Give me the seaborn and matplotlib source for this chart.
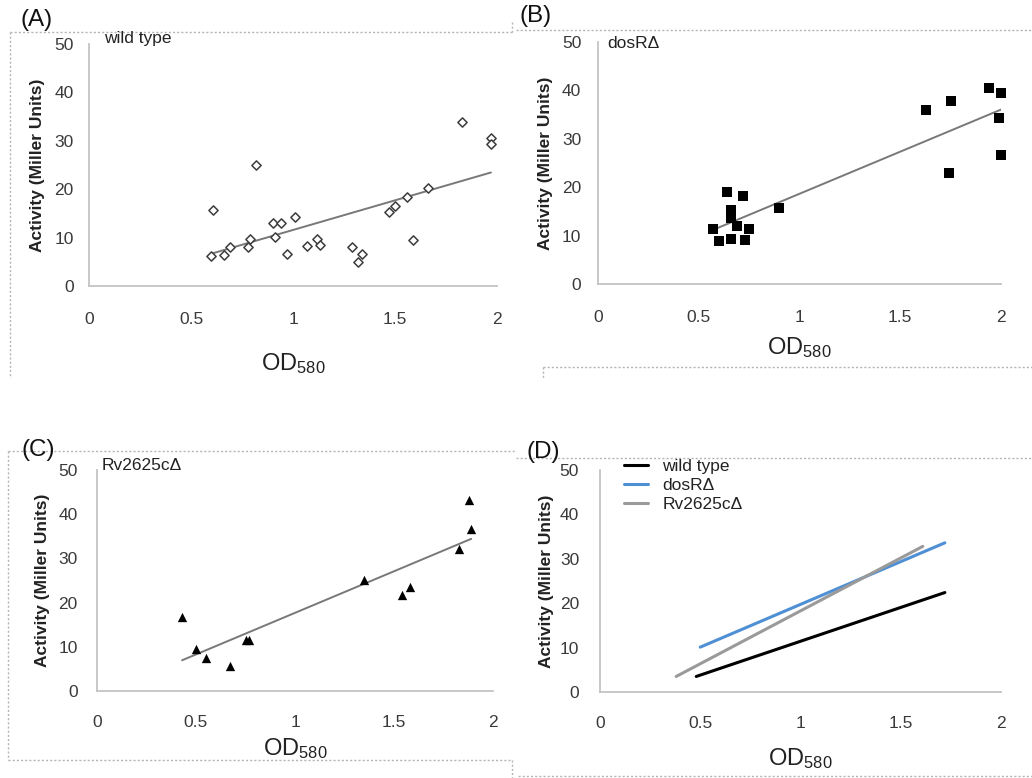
import numpy as np
import pandas as pd
import matplotlib
matplotlib.use("Agg")
import matplotlib.pyplot as plt
from matplotlib.lines import Line2D
import seaborn as sns

# ---------------- data ----------------
wt_od = [0.60, 0.61, 0.66, 0.69, 0.78, 0.79, 0.82, 0.90, 0.94, 0.91, 0.97, 1.01,
         1.07, 1.12, 1.13, 1.29, 1.32, 1.34, 1.47, 1.50, 1.56, 1.59, 1.66, 1.83,
         1.97, 1.97]
wt_act = [6.1, 15.8, 6.4, 8.1, 8.0, 9.7, 25.0, 13.1, 13.1, 10.2, 6.6, 14.3,
          8.3, 9.7, 8.5, 8.1, 5.0, 6.7, 15.2, 16.5, 18.4, 9.5, 20.2, 33.8,
          30.5, 29.3]

dos_od = [0.57, 0.60, 0.64, 0.66, 0.66, 0.66, 0.69, 0.72, 0.73, 0.75, 0.90,
          1.63, 1.74, 1.75, 1.94, 1.99, 2.00, 2.00]
dos_act = [11.4, 8.9, 19.0, 15.2, 13.6, 9.4, 11.9, 18.1, 9.0, 11.3, 15.8,
           35.9, 23.0, 37.9, 40.4, 34.4, 39.5, 26.6]

rv_od = [0.43, 0.50, 0.55, 0.67, 0.75, 0.77, 1.35, 1.54, 1.58, 1.83, 1.88, 1.89]
rv_act = [16.8, 9.6, 7.5, 5.7, 11.6, 11.5, 25.1, 21.8, 23.5, 32.1, 43.1, 36.6]

# panel D fitted lines (end points)
d_strain = ["wild type", "wild type", "dosRΔ", "dosRΔ", "Rv2625cΔ", "Rv2625cΔ"]
d_od = [0.48, 1.72, 0.50, 1.72, 0.38, 1.61]
d_act = [3.5, 22.4, 10.1, 33.6, 3.5, 32.8]

x_ticks = [0, 0.5, 1, 1.5, 2]
x_tick_labels = ["0", "0.5", "1", "1.5", "2"]
y_ticks = [0, 10, 20, 30, 40, 50]
y_tick_labels = ["0", "10", "20", "30", "40", "50"]

panel_letters = ["(A)", "(B)", "(C)", "(D)"]
panel_names = ["wild type", "dosRΔ", "Rv2625cΔ"]
y_label = "Activity (Miller Units)"
x_label = r"OD$_\mathrm{580}$"

# ---------------- style ----------------
sns.set_theme(style="white")
plt.rcParams["font.family"] = ["Liberation Sans", "DejaVu Sans"]
plt.rcParams["mathtext.fontset"] = "custom"
plt.rcParams["mathtext.rm"] = "Liberation Sans"
plt.rcParams["mathtext.it"] = "Liberation Sans:italic"
plt.rcParams["mathtext.bf"] = "Liberation Sans:bold"

W, H = 1032, 778
fig = plt.figure(figsize=(W / 100, H / 100), dpi=100)


def fx(px):
    return px / W


def fy(py):
    return 1 - py / H


def make_ax(l, t, r, b):
    return fig.add_axes([fx(l), fy(b), (r - l) / W, (b - t) / H])


axA = make_ax(89, 44, 497, 286)
axB = make_ax(598, 42, 1001, 284)
axC = make_ax(97, 470, 493, 691)
axD = make_ax(600, 470, 1001, 692)

spine_col = "#c4c4c4"
text_col = "#3a3a3a"
trend_col = "#787878"


def style(ax, xpad, ypad, ylab_x, xlab_y):
    ax.set_xlim(0, 2)
    ax.set_ylim(0, 50)
    ax.set_xticks(x_ticks, x_tick_labels)
    ax.set_yticks(y_ticks, y_tick_labels)
    sns.despine(ax=ax)
    for s in ["left", "bottom"]:
        ax.spines[s].set_color(spine_col)
        ax.spines[s].set_linewidth(1.3)
    ax.tick_params(axis="both", direction="out", colors=spine_col,
                   labelcolor=text_col, labelsize=12.5, length=4, width=1.2)
    ax.tick_params(axis="x", pad=xpad)
    ax.tick_params(axis="y", pad=ypad)
    ax.grid(False)
    ax.set_ylabel(y_label, fontsize=12.5, fontweight="bold", color="#222222")
    ax.yaxis.set_label_coords(ylab_x, 0.5)
    ax.set_xlabel(x_label, fontsize=17, color="#222222")
    ax.xaxis.set_label_coords(0.5, xlab_y)
    ax.xaxis.label.set_va("top")


# Panel A
sns.scatterplot(x=wt_od, y=wt_act, ax=axA, marker="D", s=22, facecolor="white",
                edgecolor="#3c3c3c", linewidth=1.1, clip_on=False, zorder=3)
sns.regplot(x=np.array(wt_od), y=np.array(wt_act), ax=axA, scatter=False, ci=None,
            truncate=True, line_kws=dict(color=trend_col, lw=1.4))
style(axA, 15, 7, -0.108, -0.268)

# Panel B
sns.scatterplot(x=dos_od, y=dos_act, ax=axB, marker="s", s=55, color="black",
                edgecolor="black", linewidth=0, clip_on=False, zorder=3)
sns.regplot(x=np.array(dos_od), y=np.array(dos_act), ax=axB, scatter=False, ci=None,
            truncate=True, line_kws=dict(color=trend_col, lw=1.4))
style(axB, 15, 8, -0.112, -0.21)

# Panel C
sns.scatterplot(x=rv_od, y=rv_act, ax=axC, marker="^", s=45, color="black",
                edgecolor="black", linewidth=0, clip_on=False, zorder=3)
sns.regplot(x=np.array(rv_od), y=np.array(rv_act), ax=axC, scatter=False, ci=None,
            truncate=True, line_kws=dict(color=trend_col, lw=1.4))
style(axC, 13, 10, -0.119, -0.205)

# Panel D
dfD = pd.DataFrame({"strain": d_strain, "od": d_od, "act": d_act})
palette = {"wild type": "#000000", "dosRΔ": "#4f8fd4", "Rv2625cΔ": "#9a9a9a"}
sns.lineplot(data=dfD, x="od", y="act", hue="strain", palette=palette, ax=axD,
             lw=2.2, hue_order=panel_names, estimator=None, sort=False)
style(axD, 13, 11, -0.115, -0.245)
leg = axD.legend(loc="upper left", bbox_to_anchor=(fx(624), fy(459)),
                 bbox_transform=fig.transFigure, frameon=False, fontsize=12.5,
                 handlelength=1.4, handletextpad=0.8, labelspacing=0.22,
                 borderpad=0, borderaxespad=0)
for t in leg.get_texts():
    t.set_color("#222222")
for ln in leg.get_lines():
    ln.set_linewidth(2.2)

# panel names
fig.text(fx(104), fy(38), panel_names[0], fontsize=12.5, color="#222222", va="center")
fig.text(fx(607), fy(43), panel_names[1], fontsize=12.5, color="#222222", va="center")
fig.text(fx(102), fy(465), panel_names[2], fontsize=12.5, color="#222222", va="center")

# panel letters
for (px, py), lab in zip([(37, 20), (536, 16), (38, 450), (543, 452)], panel_letters):
    fig.text(fx(px), fy(py), lab, fontsize=17.5, color="#111111", ha="center", va="center")

# dotted chart-area borders
frame_col = "#b5b5b5"
segments = [
    [(10, 32), (512, 32)], [(10, 32), (10, 378)], [(512, 22), (512, 32)],
    [(516, 30), (1032, 30)], [(543, 367), (1032, 367)], [(543, 367), (543, 378)],
    [(8, 451), (516, 451)], [(8, 451), (8, 760)], [(8, 760), (512, 760)],
    [(512, 760), (512, 778)],
    [(516, 458), (1032, 458)], [(518, 776), (1032, 776)],
]
for (x0, y0), (x1, y1) in segments:
    fig.add_artist(Line2D([fx(x0), fx(x1)], [fy(y0), fy(y1)], transform=fig.transFigure,
                          color=frame_col, lw=1.0, ls=(0, (1.5, 1.5)), zorder=0))

fig.savefig("out.png", dpi=100)
